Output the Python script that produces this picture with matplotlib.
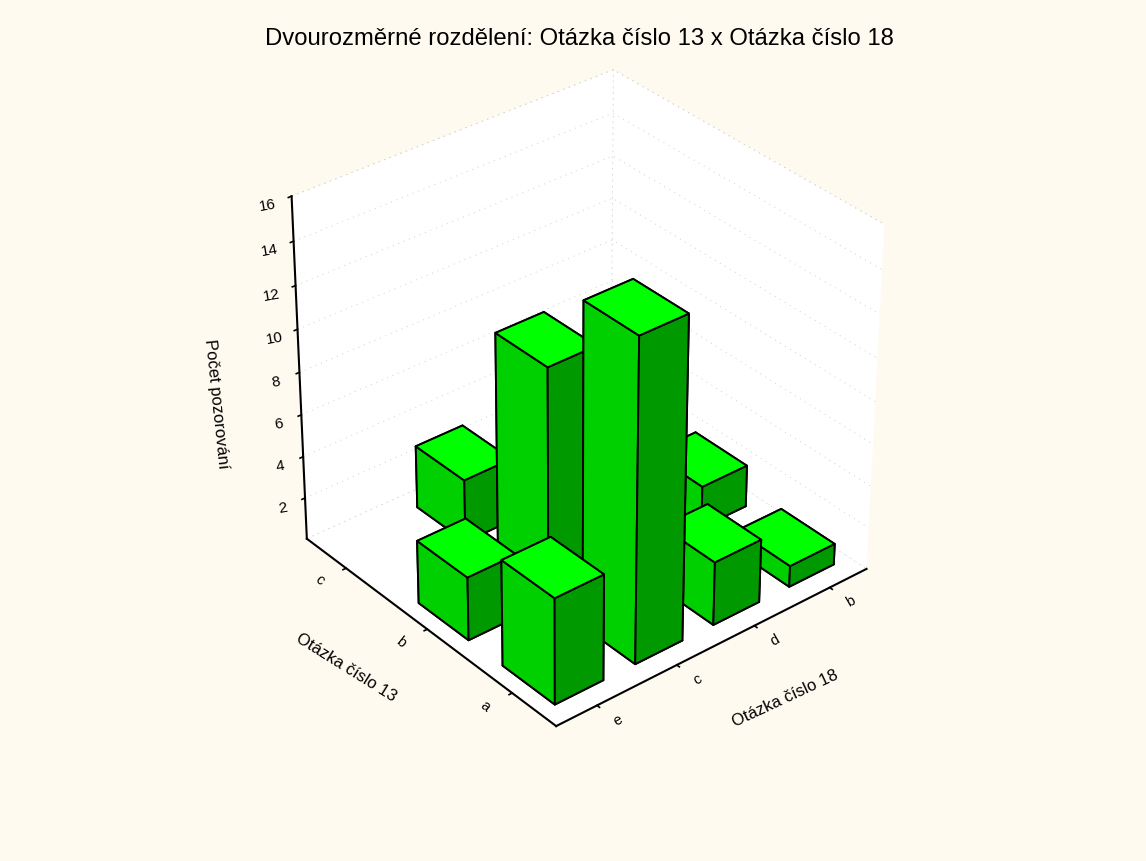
import numpy as np
import matplotlib
matplotlib.use("Agg")
import matplotlib.pyplot as plt
from mpl_toolkits.mplot3d import proj3d

plt.rcParams['font.family'] = ['Liberation Sans', 'DejaVu Sans']

q18_labels = ['e', 'c', 'd', 'b']
q13_labels = ['a', 'b', 'c']
counts_a = [5, 15, 3, 1]
counts_b = [3, 11, 0, 2]
counts_c = [0, 3, 0, 0]
z_ticks = [2, 4, 6, 8, 10, 12, 14, 16]

bg = '#FFFAF0'
fig = plt.figure(figsize=(11.46, 8.61), dpi=100, facecolor=bg)
ax = fig.add_subplot(projection='3d', computed_zorder=False)
ax.set_xlim(0.5, 4.5); ax.set_ylim(0.5, 3.5); ax.set_zlim(0, 16)
ax.view_init(elev=32.896, azim=-129.769, roll=-0.182)
ax.set_proj_type('persp', focal_length=1.043)
ax.set_box_aspect((3.700, 3.670, 3.686))
L, B, W = 232.8, 739.8, 687.3
ax.set_position([L/1146, (861-B)/861, W/1146, W/861])
ax.set_facecolor('none')

dots = (0, (1, 5))
for a in (ax.xaxis, ax.yaxis, ax.zaxis):
    a.set_pane_color('white')
    a.pane.set_edgecolor('#d0d0d0')
    a.pane.set_linestyle(dots)
    a.pane.set_linewidth(.7)
    a.line.set_color('k'); a.line.set_linewidth(1.5)
    a._axinfo['tick'].update(inward_factor=0.12, outward_factor=0.0)
    a._axinfo['tick']['linewidth'] = {True: 1.2, False: .5}
    a._axinfo['tick']['color'] = 'k'
for a in (ax.xaxis, ax.yaxis):
    a._axinfo['grid']['linewidth'] = 0
ax.zaxis._axinfo['grid'].update(color='#d0d0d0', linestyle=dots, linewidth=.7)

ax.set_xticks(range(1, 5))
ax.set_yticks(range(1, 4))
ax.set_zticks(z_ticks)
for a in (ax.xaxis, ax.yaxis, ax.zaxis):
    a.label.set_visible(False)
    a.offsetText.set_visible(False)
    for t in a.get_major_ticks():
        t.label1.set_visible(False)
        t.label2.set_visible(False)

M = ax.get_proj()

def place(x, y, z, s, rotation, fontsize):
    px, py, _ = proj3d.proj_transform(x, y, z, M)
    ax.text2D(px, py, s, transform=ax.transData, rotation=rotation, rotation_mode='anchor',
              fontsize=fontsize, ha='center', va='center')

for i, s in enumerate(q18_labels):
    place(i+1, 0.27, 0, s, 30, 10.5)
for j, s in enumerate(q13_labels):
    place(0.17, j+1, 0, s, -38, 10.5)
for v in z_ticks:
    place(0.22, 3.5, v, str(v), 10, 11)
place(2.45, -0.30, 0, 'Otázka číslo 18', 25, 12)
place(-0.48, 2.0, 0, 'Otázka číslo 13', -32, 12)
place(-0.14, 3.9, 6.5, 'Počet pozorování', -84, 12)

w = .6
faces = ['#00D000', '#00FF00', '#009A00', '#009A00', '#00D000', '#009A00']
cells = [(j+i, i, j, v) for j, row in enumerate([counts_a, counts_b, counts_c])
         for i, v in enumerate(row) if v]
for order, (_, i, j, v) in enumerate(sorted(cells, key=lambda c: -c[0])):
    ax.bar3d(i+1-w/2, j+1-w/2, 0, w, w, v, color=faces, edgecolor='k', linewidth=1.4,
             shade=False, zsort='average', zorder=10+order)

fig.suptitle('Dvourozměrné rozdělení: Otázka číslo 13 x Otázka číslo 18',
             x=579/1146, y=1-39/861, va='center', fontsize=17.2)
fig.savefig('out.png', dpi=100, facecolor=bg)
